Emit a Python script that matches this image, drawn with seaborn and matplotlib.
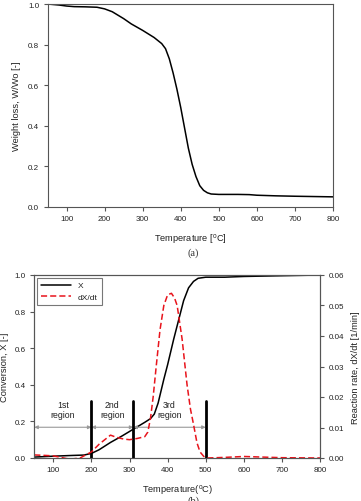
import numpy as np
import pandas as pd
import matplotlib
matplotlib.use("Agg")
import matplotlib.pyplot as plt
import seaborn as sns
from matplotlib.lines import Line2D

# ---- data (a): weight loss ----
temp_a = [50, 80, 100, 120, 150, 180, 200, 220, 250, 270, 300, 330, 350, 360, 370, 380,
          390, 400, 410, 420, 430, 440, 450, 460, 470, 480, 500, 550, 580, 600, 650, 700, 800]
weight = [1.0, 0.995, 0.99, 0.987, 0.986, 0.984, 0.976, 0.962, 0.928, 0.902, 0.87, 0.835,
          0.805, 0.78, 0.73, 0.66, 0.58, 0.49, 0.39, 0.29, 0.21, 0.15, 0.105, 0.082, 0.07,
          0.064, 0.062, 0.062, 0.061, 0.058, 0.055, 0.053, 0.05]

# ---- data (b): conversion and reaction rate ----
temp_x = [50, 100, 150, 180, 200, 220, 250, 280, 300, 320, 340, 355, 365, 375, 390, 400,
          416, 442, 455, 468, 480, 500, 550, 600, 700, 800]
conv = [0.005, 0.01, 0.014, 0.016, 0.025, 0.045, 0.085, 0.12, 0.145, 0.17, 0.195, 0.215,
        0.24, 0.3, 0.43, 0.51, 0.65, 0.86, 0.93, 0.965, 0.982, 0.988, 0.988, 0.992, 0.996, 1.0]

temp_r = [50, 70, 100, 120, 135, 150, 170, 185, 200, 220, 235, 250, 265, 285, 300, 320,
          340, 348, 355, 362, 370, 380, 390, 400, 410, 418, 425, 438, 451, 460, 468, 477,
          485, 495, 505, 550, 600, 650, 700, 800]
rate = [0.001, 0.0009, 0.0007, 0.0002, -0.0002, -0.0003, 0.0, 0.001, 0.002, 0.0045, 0.006,
        0.0075, 0.0068, 0.0062, 0.006, 0.0064, 0.007, 0.0085, 0.013, 0.02, 0.03, 0.042,
        0.05, 0.0535, 0.054, 0.0525, 0.05, 0.039, 0.024, 0.016, 0.011, 0.005, 0.002,
        0.0005, 0.0, 0.0002, 0.0005, 0.0003, 0.0001, 0.0]

region_bounds = [50, 200, 310, 500]
region_labels = ["1st\nregion", "2nd\nregion", "3rd\nregion"]
region_label_x = [125, 255, 405]

sns.set_style("ticks")
plt.rcParams['font.family'] = ['Liberation Sans', 'DejaVu Sans']
plt.rcParams['mathtext.fontset'] = 'custom'
plt.rcParams['mathtext.rm'] = 'Liberation Sans'

fig = plt.figure(figsize=(3.61, 5.02), dpi=100)
W, H = 361, 502

def ax_rect(l, t, r, b):
    return [l / W, 1 - b / H, (r - l) / W, (b - t) / H]

spine_col = "#555555"
txt_col = "#222222"
tick_fs = 5.8
lab_fs = 6.7

# ---- (a) ----
ax1 = fig.add_axes(ax_rect(47.5, 5, 333, 208))
dfa = pd.DataFrame({"T": temp_a, "W": weight})
sns.lineplot(data=dfa, x="T", y="W", ax=ax1, color="black", lw=1.1)
ax1.set_xlim(50, 800)
ax1.set_ylim(0, 1.0)
ax1.set_xticks([100, 200, 300, 400, 500, 600, 700, 800])
ax1.set_yticks([0, 0.2, 0.4, 0.6, 0.8, 1.0])
ax1.set_yticklabels(["0.0", "0.2", "0.4", "0.6", "0.8", "1.0"])
ax1.set_xlabel("Temperature [$^{\\mathrm{o}}$C]", fontsize=lab_fs, labelpad=6, color=txt_col)
ax1.set_ylabel("Weight loss, W/Wo [-]", fontsize=lab_fs, labelpad=5, color=txt_col)
ax1.tick_params(labelsize=tick_fs, length=3, color=spine_col, labelcolor=txt_col, pad=3)
for s in ax1.spines.values():
    s.set_color(spine_col)
    s.set_linewidth(0.8)
fig.text(193 / W, 1 - 253 / H, "(a)", ha="center", va="center", fontsize=7.5,
         family="Liberation Serif", color="#333333")

# ---- (b) ----
ax2 = fig.add_axes(ax_rect(34.3, 276, 320, 459))
dfx = pd.DataFrame({"T": temp_x, "X": conv})
sns.lineplot(data=dfx, x="T", y="X", ax=ax2, color="black", lw=1.1, legend=False)
ax2.set_xlim(50, 800)
ax2.set_ylim(0, 1.0)
ax2.set_xticks([100, 200, 300, 400, 500, 600, 700, 800])
ax2.set_yticks([0, 0.2, 0.4, 0.6, 0.8, 1.0])
ax2.set_yticklabels(["0.0", "0.2", "0.4", "0.6", "0.8", "1.0"])
ax2.set_xlabel("Temperature($^{\\mathrm{o}}$C)", fontsize=lab_fs, labelpad=6, color=txt_col)
ax2.set_ylabel("Conversion, X [-]", fontsize=lab_fs, labelpad=4, color=txt_col)
ax2.tick_params(labelsize=tick_fs, length=3, color=spine_col, labelcolor=txt_col, pad=3)

ax3 = ax2.twinx()
dfr = pd.DataFrame({"T": temp_r, "R": rate})
sns.lineplot(data=dfr, x="T", y="R", ax=ax3, color="#e8141c", lw=1.1,
             linestyle=(0, (4, 2)), legend=False)
ax3.set_ylim(0, 0.06)
ax3.set_yticks([0, 0.01, 0.02, 0.03, 0.04, 0.05, 0.06])
ax3.set_yticklabels(["0.00", "0.01", "0.02", "0.03", "0.04", "0.05", "0.06"])
ax3.set_ylabel("Reaction rate, dX/dt [1/min]", fontsize=lab_fs, labelpad=5, color=txt_col)
ax3.tick_params(labelsize=tick_fs, length=3, color=spine_col, labelcolor=txt_col, pad=3)
for a in (ax2, ax3):
    for s in a.spines.values():
        s.set_color(spine_col)
        s.set_linewidth(0.8)

# region markers
for xb in region_bounds[1:]:
    ax2.plot([xb, xb], [0, 0.31], color="black", lw=2.0, zorder=5)
for i in range(3):
    ax2.annotate("", xy=(region_bounds[i], 0.168), xytext=(region_bounds[i + 1], 0.168),
                 arrowprops=dict(arrowstyle="<|-|>", color="#999999", lw=0.8,
                                 mutation_scale=5, shrinkA=0, shrinkB=0))
    ax2.text(region_label_x[i], 0.265, region_labels[i], ha="center", va="center",
             fontsize=6.3, color=txt_col, linespacing=1.1)

# legend
handles = [Line2D([], [], color="black", lw=1.1),
           Line2D([], [], color="#e8141c", lw=1.1, linestyle=(0, (4, 2)))]
leg = ax2.legend(handles, ["X", "dX/dt"], loc="upper left", fontsize=6,
                 frameon=True, fancybox=False, edgecolor=spine_col,
                 borderaxespad=0.3, handlelength=3.6, borderpad=0.5, labelspacing=0.4)
leg.get_frame().set_linewidth(0.8)
for t in leg.get_texts():
    t.set_color(txt_col)

fig.text(193 / W, 1 - 501 / H, "(b)", ha="center", va="center", fontsize=7.5,
         family="Liberation Serif", color="#333333")

fig.savefig("out.png", dpi=100)
